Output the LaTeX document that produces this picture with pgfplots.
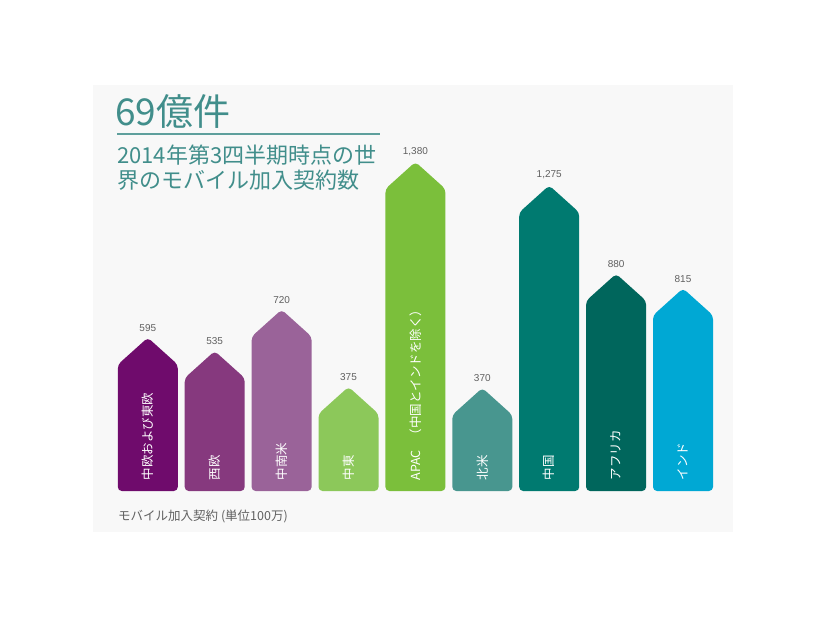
\documentclass[border=0pt]{standalone}
\usepackage{pgfplots}
\pgfplotsset{compat=1.18}
\usepackage{fontspec}
\setmainfont{Noto Sans CJK JP}
\newfontfamily\numfont{Liberation Sans}

\definecolor{panel}{HTML}{F8F8F8}
\definecolor{titlecol}{HTML}{418E8B}
\definecolor{valcol}{HTML}{606060}
\definecolor{c1}{HTML}{6F0B6C}
\definecolor{c2}{HTML}{86397E}
\definecolor{c3}{HTML}{9A6399}
\definecolor{c4}{HTML}{8CC85A}
\definecolor{c5}{HTML}{7BBF3B}
\definecolor{c6}{HTML}{48968F}
\definecolor{c7}{HTML}{007A70}
\definecolor{c8}{HTML}{00665C}
\definecolor{c9}{HTML}{00A8D4}

\begin{document}
\begin{tikzpicture}[x=1pt,y=1pt]
\path[use as bounding box] (0,0) rectangle (826,620);
\fill[panel] (93,88) rectangle (733,535);

% titles
\node[anchor=base west, inner sep=0pt, text=titlecol, font=\fontsize{37}{37}\selectfont] at (115,494) {69億件};
\draw[titlecol!85, line width=1.6pt] (117,486) -- (380,486);
\node[anchor=base west, inner sep=0pt, text=titlecol, font=\fontsize{22}{22}\selectfont] at (117,456) {2014年第3四半期時点の世};
\node[anchor=base west, inner sep=0pt, text=titlecol, font=\fontsize{22}{22}\selectfont] at (117,431) {界のモバイル加入契約数};
\node[anchor=base west, inner sep=0pt, text=valcol, font=\fontsize{12.5}{14}\selectfont] at (118,99) {モバイル加入契約 (単位100万)};

\begin{axis}[
    at={(147.8pt,149.2pt)}, anchor=origin,
    x=66.9pt, y=0.2238pt,
    xmin=-0.5, xmax=8.5, ymin=-91, ymax=1400,
    hide axis, clip=false,
    /pgf/number format/.cd, 1000 sep={,}, assume math mode=true,
    /pgfplots/.cd,
    arrow/.style={fill=#1, draw=none, rounded corners=4pt},
]
    % arrow-shaped bars: base -90.3, shoulder = value - 120.6, tip = value
    \addplot[arrow=c1] coordinates {(0,-90.3) (0.4484,-90.3) (0.4484,474.4) (0,595) (-0.4484,474.4) (-0.4484,-90.3)} -- cycle;
    \addplot[arrow=c2] coordinates {(1,-90.3) (1.4484,-90.3) (1.4484,414.4) (1,535) (0.5516,414.4) (0.5516,-90.3)} -- cycle;
    \addplot[arrow=c3] coordinates {(2,-90.3) (2.4484,-90.3) (2.4484,599.4) (2,720) (1.5516,599.4) (1.5516,-90.3)} -- cycle;
    \addplot[arrow=c4] coordinates {(3,-90.3) (3.4484,-90.3) (3.4484,254.4) (3,375) (2.5516,254.4) (2.5516,-90.3)} -- cycle;
    \addplot[arrow=c5] coordinates {(4,-90.3) (4.4484,-90.3) (4.4484,1259.4) (4,1380) (3.5516,1259.4) (3.5516,-90.3)} -- cycle;
    \addplot[arrow=c6] coordinates {(5,-90.3) (5.4484,-90.3) (5.4484,249.4) (5,370) (4.5516,249.4) (4.5516,-90.3)} -- cycle;
    \addplot[arrow=c7] coordinates {(6,-90.3) (6.4484,-90.3) (6.4484,1154.4) (6,1275) (5.5516,1154.4) (5.5516,-90.3)} -- cycle;
    \addplot[arrow=c8] coordinates {(7,-90.3) (7.4484,-90.3) (7.4484,759.4) (7,880) (6.5516,759.4) (6.5516,-90.3)} -- cycle;
    \addplot[arrow=c9] coordinates {(8,-90.3) (8.4484,-90.3) (8.4484,694.4) (8,815) (7.5516,694.4) (7.5516,-90.3)} -- cycle;

    % value labels at the tips
    \addplot[draw=none, mark=none, nodes near coords,
        every node near coord/.append style={font=\numfont\fontsize{10}{12}\selectfont,
            text=valcol, anchor=south, yshift=6pt, inner sep=0pt}]
        coordinates {(0,595) (1,535) (2,720) (3,375) (4,1380) (5,370) (6,1275) (7,880) (8,815)};

    \tikzset{cat/.style={rotate=90, anchor=west, inner sep=0pt, text=white,
        font=\fontsize{12.5}{14}\selectfont}}
    \node[cat] at (axis cs:0,-44) {中欧および東欧};
    \node[cat] at (axis cs:1,-44) {西欧};
    \node[cat] at (axis cs:2,-44) {中南米};
    \node[cat] at (axis cs:3,-44) {中東};
    \node[cat] at (axis cs:4,-44) {APAC\hspace{9pt}（中国とインドを除く）};
    \node[cat] at (axis cs:5,-44) {北米};
    \node[cat] at (axis cs:6,-44) {中国};
    \node[cat] at (axis cs:7,-44) {アフリカ};
    \node[cat] at (axis cs:8,-44) {インド};
\end{axis}
\end{tikzpicture}
\end{document}
